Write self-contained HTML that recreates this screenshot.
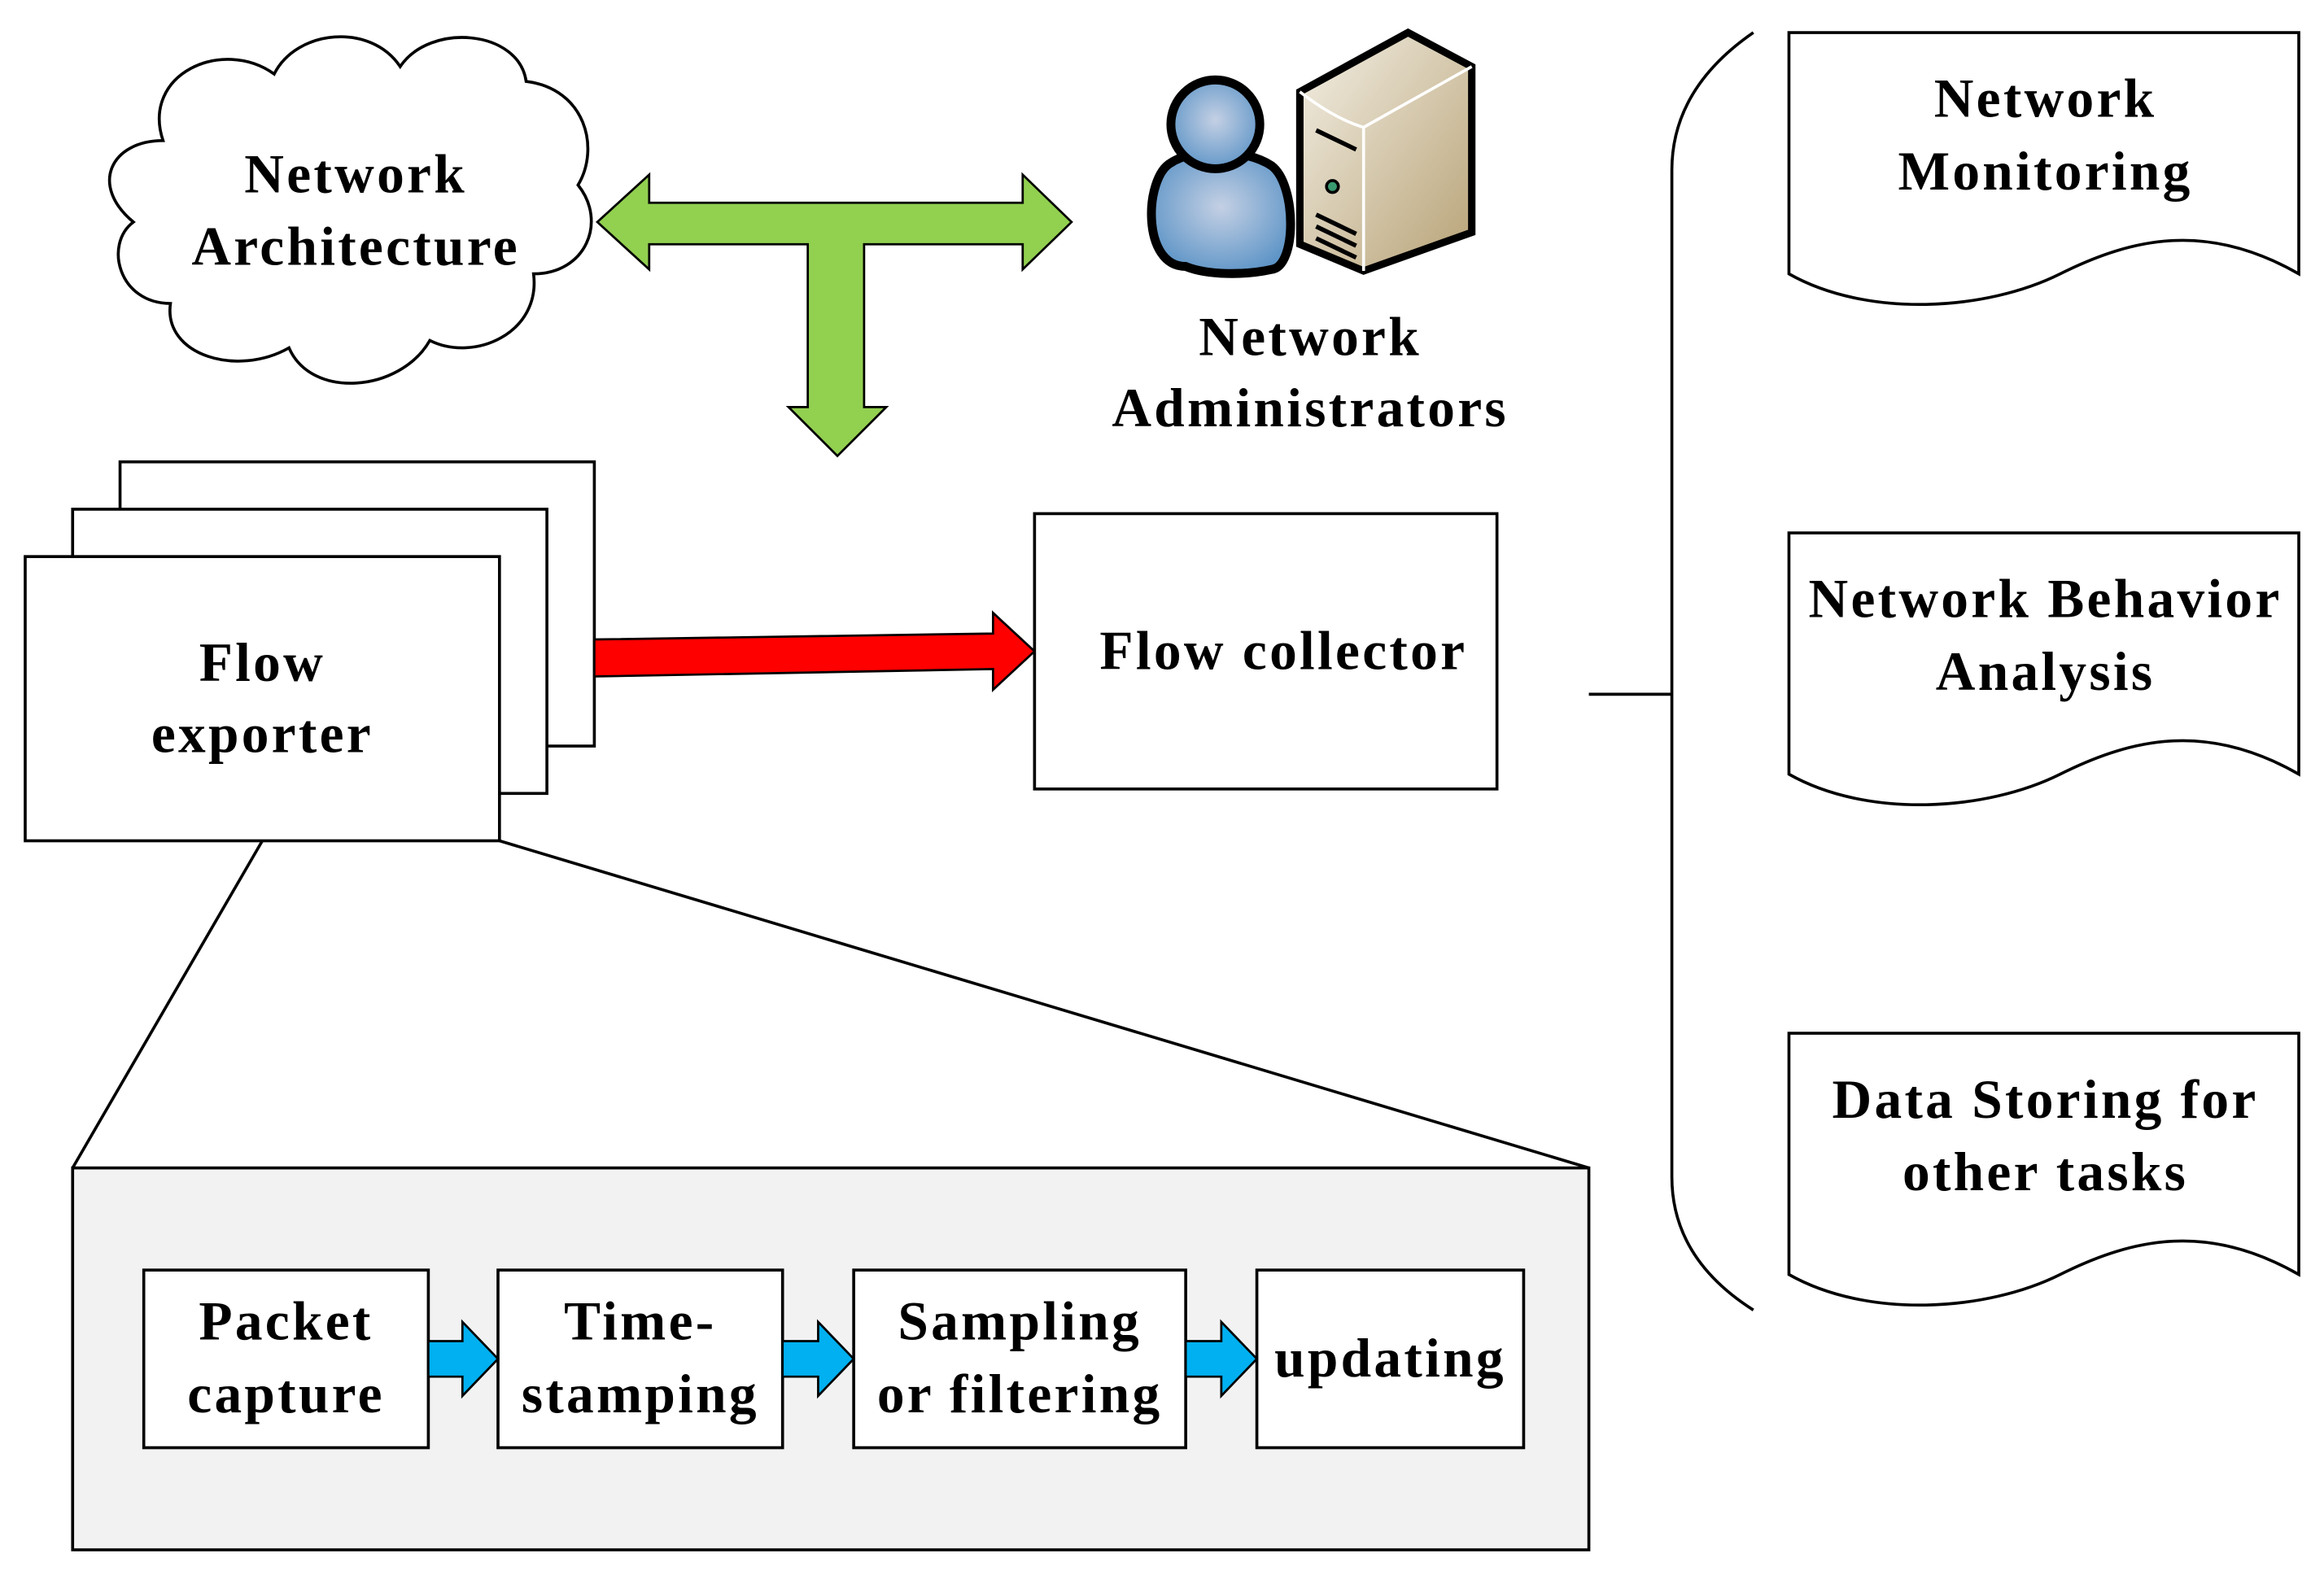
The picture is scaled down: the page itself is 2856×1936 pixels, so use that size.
<!DOCTYPE html>
<html><head><meta charset="utf-8"><style>
html,body{margin:0;padding:0;background:#fff}
svg{display:block}
text{font-family:"Liberation Serif",serif;font-weight:bold;font-size:37px;fill:#000;text-anchor:middle;letter-spacing:1.8px}
</style></head><body>
<svg width="2856" height="1936" viewBox="0 0 1568 1064" preserveAspectRatio="none" xmlns="http://www.w3.org/2000/svg">
<defs>
<radialGradient id="pb" cx="50%" cy="45%" r="60%"><stop offset="0" stop-color="#c4d0e4"/><stop offset="1" stop-color="#5b93c6"/></radialGradient>
<linearGradient id="sv" x1="0" y1="0" x2="1" y2="1"><stop offset="0" stop-color="#f4f0e6"/><stop offset="1" stop-color="#b7a276"/></linearGradient>
</defs>
<path d="M110,95 C95,50 150,25 185,50 C200,20 250,15 270,45 C290,15 350,20 355,55 C395,60 405,100 390,125 C410,150 395,185 360,185 C365,225 320,245 290,230 C270,265 210,270 195,235 C160,255 110,240 115,205 C80,205 70,165 90,150 C60,125 75,95 110,95 Z" fill="#fff" stroke="#000" stroke-width="2"/>
<text x="240" y="130">Network</text>
<text x="240" y="179">Architecture</text>
<path d="M403,150 L438,118 L438,137 L690,137 L690,118 L723,150 L690,182 L690,165 L583,165 L583,275 L598,275 L565,308 L532,275 L545,275 L545,165 L438,165 L438,182 Z" fill="#92d050" stroke="#000" stroke-width="1.5"/>
<path d="M800,180 C770,180 772,120 790,110 C805,100 840,100 858,112 C875,125 875,180 858,182 C840,186 815,186 800,180 Z" fill="url(#pb)" stroke="#000" stroke-width="6"/>
<circle cx="820" cy="84" r="30" fill="url(#pb)" stroke="#000" stroke-width="6"/>
<path d="M877,62 L950,22 L993,45 L993,157 L920,183 L877,165 Z" fill="url(#sv)" stroke="#000" stroke-width="5"/>
<path d="M877,62 Q900,80 920,86 L993,45 M920,86 L920,183" fill="none" stroke="#fff" stroke-width="2"/>
<path d="M888,145 L915,158 M888,153 L915,166 M888,161 L915,174 M888,88 L915,101" stroke="#000" stroke-width="3"/>
<circle cx="899" cy="126" r="4" fill="#3a9a70" stroke="#000" stroke-width="2"/>
<text x="884" y="240">Network</text>
<text x="884" y="288">Administrators</text>
<rect x="81" y="312" width="320" height="192" fill="#fff" stroke="#000" stroke-width="2"/>
<rect x="49" y="344" width="320" height="192" fill="#fff" stroke="#000" stroke-width="2"/>
<rect x="17" y="376" width="320" height="192" fill="#fff" stroke="#000" stroke-width="2"/>
<text x="177" y="460">Flow</text>
<text x="177" y="508">exporter</text>
<path d="M401,432 L670,428 L670,414 L698,440 L670,466 L670,452 L401,457 Z" fill="#ff0000" stroke="#000" stroke-width="1.5"/>
<rect x="698" y="347" width="312" height="186" fill="#fff" stroke="#000" stroke-width="2"/>
<text x="866" y="452">Flow collector</text>
<line x1="177" y1="568" x2="49" y2="789" stroke="#000" stroke-width="2"/>
<line x1="337" y1="568" x2="1072" y2="789" stroke="#000" stroke-width="2"/>
<rect x="49" y="789" width="1023" height="258" fill="#f2f2f2" stroke="#000" stroke-width="2"/>
<g fill="#fff" stroke="#000" stroke-width="2">
<rect x="97" y="858" width="192" height="120"/>
<rect x="336" y="858" width="192" height="120"/>
<rect x="576" y="858" width="224" height="120"/>
<rect x="848" y="858" width="180" height="120"/>
</g>
<g fill="#00b0f0" stroke="#000" stroke-width="1.5">
<path d="M289,906 L312,906 L312,893 L336,918 L312,943 L312,930 L289,930 Z"/>
<path d="M528,906 L552,906 L552,893 L576,918 L552,943 L552,930 L528,930 Z"/>
<path d="M800,906 L824,906 L824,893 L848,918 L824,943 L824,930 L800,930 Z"/>
</g>
<text x="193" y="905">Packet</text>
<text x="193" y="954">capture</text>
<text x="432" y="905">Time-</text>
<text x="432" y="954">stamping</text>
<text x="688" y="905">Sampling</text>
<text x="688" y="954">or filtering</text>
<text x="938" y="930">updating</text>
<path d="M1072,469 L1128,469 M1183,22 Q1128,60 1128,115 L1128,795 Q1128,850 1183,885" fill="none" stroke="#000" stroke-width="2"/>
<g fill="#fff" stroke="#000" stroke-width="2">
<path d="M1207,22 L1551,22 L1551,185 C1490,150 1440,160 1390,185 C1340,210 1260,215 1207,185 Z"/>
<path d="M1207,360 L1551,360 L1551,523 C1490,488 1440,498 1390,523 C1340,548 1260,553 1207,523 Z"/>
<path d="M1207,698 L1551,698 L1551,861 C1490,826 1440,836 1390,861 C1340,886 1260,891 1207,861 Z"/>
</g>
<text x="1380" y="79">Network</text>
<text x="1380" y="128">Monitoring</text>
<text x="1380" y="417">Network Behavior</text>
<text x="1380" y="466">Analysis</text>
<text x="1380" y="755">Data Storing for</text>
<text x="1380" y="804">other tasks</text>
</svg>
</body></html>
